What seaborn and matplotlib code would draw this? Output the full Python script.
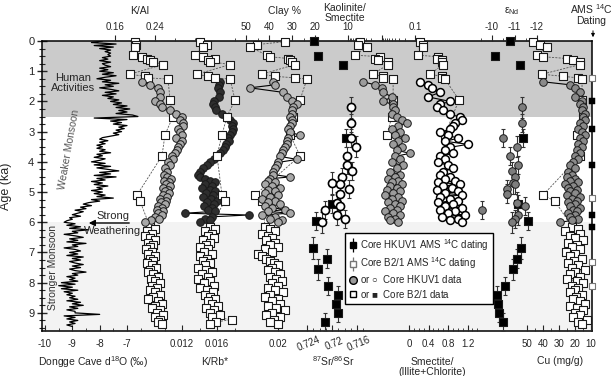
import numpy as np
import matplotlib.pyplot as plt
import seaborn as sns
from matplotlib.lines import Line2D
from matplotlib.legend_handler import HandlerTuple
from matplotlib.ticker import NullFormatter

sns.set_style('ticks')
plt.rcParams['font.family'] = ['Liberation Sans', 'DejaVu Sans']
plt.rcParams['mathtext.default'] = 'regular'

# ---------------- data ----------------
# Dongge cave d18O (permil), one value every 0.05 ka from 0 to 9.45 ka
d18o = [-7.9, -8.3, -7.4, -8.2, -7.5, -8.0, -7.6, -7.8, -7.6, -7.7,
        -7.6, -7.9, -7.7, -8.0, -7.6, -7.9, -7.8, -7.6, -8.0, -7.7,
        -8.0, -7.5, -7.9, -7.4, -7.8, -8.1, -7.6, -7.9, -7.3, -7.8,
        -7.5, -8.0, -7.6, -7.3, -7.8, -7.4, -7.9, -7.5, -7.7, -7.3,
        -7.6, -7.2, -7.5, -7.0, -7.4, -6.9, -7.3, -7.0, -7.4, -6.8,
        -6.6, -8.2, -7.0, -7.6, -7.2, -7.5, -7.0, -7.3, -7.1, -7.4,
        -7.2, -7.5, -7.3, -7.6, -7.9, -8.0, -7.7, -8.0, -7.8, -8.1,
        -7.9, -8.1, -7.8, -8.0, -7.6, -8.1, -7.9, -8.2, -7.8, -8.0,
        -8.3, -7.8, -8.2, -7.6, -8.1, -7.7, -7.3, -8.0, -7.6, -8.2,
        -7.4, -8.1, -7.8, -8.3, -7.9, -8.2, -7.7, -8.1, -7.9, -8.3,
        -7.9, -8.2, -7.8, -8.1, -7.5, -8.3, -8.0, -8.4, -8.6, -8.3,
        -8.7, -8.5, -8.9, -8.6, -8.8, -9.0, -8.7, -9.1, -9.0, -9.2,
        -9.3, -8.9, -9.2, -8.7, -9.1, -8.4, -9.0, -8.8, -9.3, -8.9,
        -8.6, -9.1, -8.8, -9.2, -8.5, -9.0, -8.8, -9.3, -8.9, -8.7,
        -9.1, -8.8, -9.2, -8.6, -9.0, -8.7, -9.1, -8.9, -8.6, -9.0,
        -8.7, -9.1, -8.9, -8.5, -9.0, -8.8, -9.2, -8.9, -9.1, -8.8,
        -9.4, -8.9, -9.5, -9.0, -9.4, -8.8, -9.3, -9.0, -9.2, -8.9,
        -9.1, -8.8, -9.2, -8.7, -9.0, -8.6, -9.1, -8.8, -9.2, -8.9,
        -8.9, -8.0, -9.3, -8.9, -9.2, -8.8, -9.1, -8.9, -9.2, -9.0]
d18o_age = np.round(np.arange(0, 9.5, 0.05), 2)

# Core HKUV1 sample ages (ka)
hk_age = [1.35, 1.45, 1.55, 1.70, 1.85, 2.00, 2.10, 2.20, 2.30, 2.42,
          2.52, 2.62, 2.72, 2.82, 2.92, 3.02, 3.12, 3.22, 3.32, 3.42,
          3.52, 3.62, 3.72, 3.82, 3.92, 4.02, 4.12, 4.22, 4.32, 4.42,
          4.50, 4.56, 4.62, 4.68, 4.74, 4.80, 4.86, 4.92, 4.98, 5.04,
          5.10, 5.16, 5.22, 5.28, 5.34, 5.40, 5.46, 5.52, 5.58, 5.64,
          5.70, 5.76, 5.82, 5.88, 5.94, 6.00]

# Core B2/1 sample ages (ka)
b2_age = [0.02, 0.12, 0.20, 0.47, 0.52, 0.58, 0.62, 0.68, 0.78, 1.10, 1.17, 1.22, 1.26,
          1.95, 2.50, 3.10, 3.80, 5.10, 5.30,
          6.15, 6.22, 6.30, 6.38, 6.45, 6.52, 6.60, 6.68, 6.75, 6.83,
          6.90, 6.98, 7.05, 7.12, 7.20, 7.28, 7.35, 7.42, 7.50, 7.58,
          7.65, 7.72, 7.80, 7.88, 7.95, 8.02, 8.10, 8.18, 8.25, 8.32,
          8.40, 8.48, 8.55, 8.62, 8.70, 8.78, 8.85, 8.92, 9.00, 9.08,
          9.15, 9.22, 9.30, 9.38]

hk_kal = [0.214, 0.230, 0.246, 0.250, 0.250, 0.240, 0.250, 0.254, 0.270, 0.282,
          0.294, 0.290, 0.296, 0.296, 0.286, 0.290, 0.294, 0.282, 0.294, 0.290,
          0.286, 0.284, 0.280, 0.274, 0.276, 0.266, 0.270, 0.260, 0.264, 0.258,
          0.264, 0.272, 0.258, 0.268, 0.262, 0.270, 0.256, 0.266, 0.260, 0.268,
          0.256, 0.264, 0.250, 0.262, 0.252, 0.260, 0.246, 0.254, 0.244, 0.256,
          0.246, 0.254, 0.240, 0.248, 0.232, 0.220]
b2_kal = [0.200, 0.202, 0.200, 0.196, 0.214, 0.224, 0.230, 0.236, 0.256, 0.190, 0.220, 0.226, 0.266,
          0.270, 0.276, 0.260, 0.254, 0.204, 0.210,
          0.230, 0.240, 0.224, 0.234, 0.220, 0.230, 0.240, 0.226, 0.236, 0.230,
          0.222, 0.234, 0.226, 0.240, 0.230, 0.236, 0.224, 0.234, 0.242, 0.230,
          0.226, 0.236, 0.246, 0.232, 0.240, 0.250, 0.234, 0.244, 0.230, 0.240,
          0.250, 0.236, 0.226, 0.246, 0.254, 0.240, 0.234, 0.250, 0.244, 0.256,
          0.240, 0.250, 0.246, 0.254]

hk_krb = [0.01634, 0.01623, 0.01611, 0.01634, 0.01623, 0.01566, 0.01554, 0.01577, 0.01589, 0.01657,
          0.01714, 0.01749, 0.01783, 0.01771, 0.01783, 0.01771, 0.01749, 0.01726, 0.01737, 0.01703,
          0.01691, 0.01669, 0.01634, 0.01600, 0.01566, 0.01520, 0.01486, 0.01440, 0.01406, 0.01383,
          0.01406, 0.01463, 0.01520, 0.01577, 0.01463, 0.01543, 0.01429, 0.01520, 0.01577, 0.01474,
          0.01554, 0.01440, 0.01531, 0.01600, 0.01486, 0.01566, 0.01451, 0.01543, 0.01497, 0.01577,
          0.01234, 0.01960, 0.01543, 0.01463, 0.01520, 0.01406]
b2_krb = [0.01406, 0.01486, 0.01440, 0.01349, 0.01440, 0.01577, 0.01497, 0.01520, 0.01749, 0.01371, 0.01497, 0.01577, 0.01749,
          0.01806, 0.01714, 0.01657, 0.01600, 0.01657, 0.01691,
          0.01520, 0.01577, 0.01463, 0.01543, 0.01497, 0.01566, 0.01440, 0.01520, 0.01474, 0.01406,
          0.01497, 0.01451, 0.01543, 0.01406, 0.01486, 0.01440, 0.01520, 0.01463, 0.01383, 0.01474,
          0.01543, 0.01429, 0.01497, 0.01383, 0.01520, 0.01451, 0.01566, 0.01406, 0.01486, 0.01554,
          0.01463, 0.01520, 0.01577, 0.01497, 0.01543, 0.01611, 0.01474, 0.01566, 0.01520, 0.01634,
          0.01543, 0.01771, 0.01589, 0.01520]

hk_clay = [38.3, 37.4, 48.3, 33.9, 32.2, 30.0, 27.8, 29.6, 30.0, 30.0,
           30.9, 30.0, 30.0, 30.9, 31.7, 30.9, 26.5, 31.7, 32.2, 32.2,
           33.0, 33.9, 34.3, 35.2, 27.8, 36.1, 36.5, 37.4, 38.3, 38.3,
           30.9, 39.6, 40.4, 37.4, 41.7, 38.7, 35.2, 40.4, 37.4, 41.7,
           36.1, 39.6, 43.0, 37.4, 40.4, 35.2, 41.7, 38.7, 33.0, 40.4,
           30.9, 43.0, 37.4, 39.6, 34.3, 36.1]
b2_clay = [33.0, 45.2, 48.3, 40.9, 39.6, 31.7, 30.9, 30.0, 28.7, 43.0, 37.4, 28.7, 23.5,
           26.5, 29.6, 30.9, 26.5, 46.1, 43.0,
           41.7, 39.6, 37.4, 43.0, 40.4, 38.7, 41.3, 37.4, 39.6, 36.1,
           41.7, 38.7, 44.8, 43.0, 41.3, 39.6, 37.8, 36.1, 38.7, 40.4,
           37.4, 35.2, 39.6, 37.0, 34.3, 38.7, 36.1, 40.4, 37.4, 33.9,
           39.6, 41.7, 36.1, 38.7, 35.2, 40.4, 37.0, 33.0, 38.7, 41.3,
           35.2, 37.8, 39.6, 36.1]

hk_kaol = [3.57, 1.56, 0.95, 0.90, 0.49, 0.90, 0.45, 0.45, 0.40, 0.49,
           0.34, 0.24, 0.17, 0.32, 0.49, 0.28, 0.40, 0.20, 0.32, 0.45,
           0.24, 0.34, 0.14, 0.40, 0.28, 0.49, 0.23, 0.34, 0.56, 0.28,
           0.40, 0.64, 0.32, 0.49, 0.24, 0.56, 0.34, 0.69, 0.28, 0.45,
           0.79, 0.32, 0.49, 0.24, 0.64, 0.40, 0.28, 0.56, 0.34, 0.79,
           0.45, 0.28, 0.64, 0.40, 0.56, 0.32]
b2_kaol = ([4.38, 5.02, 2.71, 6.18, 1.11, 1.56, 1.27, 0.64, 0.64, 1.80, 0.90, 0.90, 0.45,
            0.45, 0.49, 0.69, np.nan, np.nan, np.nan] + [np.nan] * 44)

hk_smi = [0.226, 0.390, 0.472, 0.636, 0.390, 0.841, 0.636, 0.574, 0.697, 0.841,
          1.046, 1.087, 0.944, 0.903, 0.841, 0.636, 0.800, 1.005, 0.738, 1.210,
          0.841, 0.738, 0.903, 0.636, 0.738, 0.595, 0.800, 0.903, 0.697, 0.636,
          0.841, 0.738, 0.944, 0.595, 1.046, 0.697, 0.882, 0.574, 1.005, 0.738,
          1.087, 0.636, 0.841, 1.005, 0.595, 0.903, 0.738, 1.087, 0.636, 0.944,
          0.800, 1.149, 0.677, 1.005, 0.841, 1.087]
b2_smi = ([0.226, 0.287, 0.287, 0.185, 0.595, 0.574, 0.677, 0.677, 0.697, 0.431, 0.677, 0.677, 0.738,
           1.026, np.nan, 0.738, np.nan, np.nan, np.nan] + [np.nan] * 44)

hk_cu = [40.0, 23.1, 20.0, 16.9, 20.0, 15.6, 16.9, 15.0, 15.6, 13.8,
         15.0, 13.8, 16.9, 15.0, 18.1, 15.6, 13.8, 16.9, 15.0, 18.1,
         15.6, 18.8, 16.9, 20.0, 18.1, 21.3, 23.1, 20.0, 24.4, 21.9,
         25.0, 20.0, 23.1, 18.1, 26.3, 21.3, 24.4, 18.8, 23.1, 20.0,
         25.0, 16.9, 21.9, 18.8, 24.4, 20.0, 23.1, 16.9, 21.3, 18.8,
         24.4, 20.0, 23.1, 18.1, 21.9, 29.4]
b2_cu = [46.3, 41.9, 37.5, 43.8, 40.0, 25.0, 21.3, 16.9, 16.9, 40.6, 27.5, 18.1, 15.6,
         15.6, 15.0, 18.8, 16.9, 40.0, 32.5,
         21.9, 18.1, 26.3, 16.9, 23.1, 20.0, 15.0, 24.4, 18.8, 21.9,
         16.9, 25.6, 20.0, 23.1, 15.6, 20.6, 24.4, 18.1, 21.9, 13.8,
         20.0, 23.1, 16.9, 25.0, 18.8, 15.0, 21.9, 18.1, 20.0, 23.1,
         15.6, 19.4, 21.3, 16.9, 13.8, 23.1, 18.8, 15.0, 20.0, 16.9,
         21.3, 12.5, 18.1, 15.6]

# isotope samples (Sr and Nd measured on the same samples)
hk_iso_age = [2.2, 2.7, 3.2, 3.5, 3.8, 4.1, 4.3, 4.5, 4.7, 4.75, 4.9, 5.05, 5.35, 5.45, 5.6, 5.75, 5.9, 6.0]
hk_iso_err = [0.35, 0.3, 0.3, 0.35, 0.3, 0.3, 0.3, 0.3, 0.35, 0.3, 0.3, 0.3, 0.35, 0.3, 0.3, 0.35, 0.3, 0.35]
hk_sr = [0.71692, 0.71692, 0.71692, 0.71615, 0.71754, 0.71754, 0.71677, 0.71846, 0.72000,
         0.71877, 0.71723, 0.71877, 0.71923, 0.71877, 0.72108, 0.71923, 0.71800, 0.72154]
hk_nd = [-11.33, -11.33, -10.49, -11.11, -10.80, -11.16, -10.89, -11.02, -10.93,
         -11.02, -10.67, -10.67, -11.11, -11.47, -9.56, -11.16, -11.02, -10.89]
b2_iso_age = [0.0, 0.5, 0.8, 3.2, 5.4, 5.95, 6.85, 7.2, 7.55, 8.1, 8.4, 8.7, 9.0, 9.3]
b2_iso_err = [0, 0, 0, 0.3, 0.3, 0.3, 0.35, 0.3, 0.35, 0.3, 0.3, 0.3, 0.3, 0.3]
b2_sr = [0.72292, 0.72231, 0.71831, 0.71769, 0.72000, 0.72262, 0.72308, 0.72077,
         0.72231, 0.72062, 0.71908, 0.71938, 0.71908, 0.72108]
b2_nd = [-10.80, -10.13, -11.24, -11.38, -11.16, -11.60, -11.29, -11.11, -10.93,
         -10.58, -10.22, -10.27, -10.31, -10.49]

# AMS 14C dating depths (ka)
ams_hk = [2.0, 2.9, 4.1, 5.75, 6.15]
ams_b2 = [1.23, 5.2, 7.3, 8.1]

# ---------------- layout ----------------
W, H = 612, 376
L, R = 42, 592
rect = [L / W, 45 / H, (R - L) / W, 290 / H]


def fpos(x, y):
    return x / W, 1 - y / H


def lim(v1, p1, v2, p2, log=False):
    if log:
        v1, v2 = np.log10(v1), np.log10(v2)
    s = (p2 - p1) / (v2 - v1)
    a, b = v1 + (L - p1) / s, v1 + (R - p1) / s
    return (10 ** a, 10 ** b) if log else (a, b)


fig = plt.figure(figsize=(W / 100, H / 100), dpi=100)
ax = fig.add_axes(rect)
ax.set_xlim(-1, 0)
ax.set_ylim(9.6, 0)
ax.axhspan(0, 2.5, color='#cbcbcb', lw=0, zorder=0)
ax.axhspan(6.0, 9.6, color='#f3f3f3', lw=0, zorder=0)
ax.set_xticks([])
ax.set_yticks(range(10))
ax.set_yticks(np.arange(0, 9.6, 0.25), minor=True)
ax.tick_params(axis='y', which='major', direction='inout', length=7, width=1, labelsize=8, pad=2)
ax.tick_params(axis='y', which='minor', direction='inout', length=4, width=0.8)
ax.set_ylabel('Age (ka)', fontsize=9)
ax.yaxis.set_label_coords(-30 / (R - L), 0.5)
for s in ax.spines.values():
    s.set_linewidth(1.1)
    s.set_color('k')


def overlay(xl, side, major, labels, minor=(), log=False):
    a = fig.add_axes(rect, sharey=ax)
    a.patch.set_visible(False)
    for s in a.spines.values():
        s.set_visible(False)
    if log:
        a.set_xscale('log')
    a.set_xlim(*xl)
    a.set_xticks(major, labels)
    a.set_xticks(list(minor), minor=True)
    a.xaxis.set_minor_formatter(NullFormatter())
    a.tick_params(axis='y', which='both', left=False, right=False, labelleft=False, labelright=False)
    if side == 'top':
        a.tick_params(axis='x', which='both', direction='out', top=True, bottom=False,
                      labeltop=True, labelbottom=False, pad=2.5)
    else:
        a.tick_params(axis='x', which='both', direction='in', top=False, bottom=True,
                      labeltop=False, labelbottom=True, pad=6)
    a.tick_params(axis='x', which='major', length=4, width=0.8, labelsize=7)
    a.tick_params(axis='x', which='minor', length=2.5, width=0.6)
    return a


def hk_points(a, x, y, face, line=True, s=30):
    if line:
        sns.lineplot(x=x, y=y, ax=a, sort=False, estimator=None, color='k', lw=0.8, zorder=3)
    sns.scatterplot(x=x, y=y, ax=a, marker='o', s=s, color=face, edgecolor='#1a1a1a',
                    linewidth=0.7, zorder=4, clip_on=False)


def b2_points(a, x, y, face='white', line=True):
    if line:
        sns.lineplot(x=x, y=y, ax=a, sort=False, estimator=None, color='#555555',
                     lw=0.6, ls=(0, (2.5, 1.5)), zorder=3)
    sns.scatterplot(x=x, y=y, ax=a, marker='s', s=26, color=face, edgecolor='#1a1a1a',
                    linewidth=0.8, zorder=4, clip_on=False)


def clean(a):
    a.set_xlabel('')
    a.set_ylabel('')


# Dongge cave d18O
a_o = overlay(lim(-10, 45, -7, 127), 'bottom', [-10, -9, -8, -7], ['-10', '-9', '-8', '-7'],
              [-9.5, -8.5, -7.5, -6.5])
sns.lineplot(x=d18o, y=d18o_age, ax=a_o, sort=False, estimator=None, color='k', lw=0.9)
clean(a_o)

# K/Al
a_kal = overlay(lim(0.16, 115, 0.24, 155), 'top', [0.16, 0.24], ['0.16', '0.24'], [0.20, 0.28, 0.32])
b2_points(a_kal, b2_kal, b2_age)
hk_points(a_kal, hk_kal, hk_age, '#a8a8a8')
clean(a_kal)

# K/Rb*
a_krb = overlay(lim(0.012, 182, 0.016, 217), 'bottom', [0.012, 0.016], ['0.012', '0.016'],
                [0.010, 0.014, 0.018])
hk_points(a_krb, hk_krb, hk_age, '#2e2e2e')
b2_points(a_krb, b2_krb, b2_age)
clean(a_krb)

# lone 0.02 bottom tick
a_x = overlay(lim(0.02, 278, 0.024, 313), 'bottom', [0.02], ['0.02'])
clean(a_x)

# Clay %
a_clay = overlay(lim(50, 246, 20, 315), 'top', [50, 40, 30, 20], ['50', '40', '30', '20'],
                 [55, 45, 35, 25])
b2_points(a_clay, b2_clay, b2_age)
hk_points(a_clay, hk_clay, hk_age, '#a8a8a8')
clean(a_clay)

# 87Sr/86Sr
a_sr = overlay(lim(0.72, 332, 0.716, 357), 'bottom', [0.724, 0.72, 0.716], ['0.724', '0.72', '0.716'],
               [0.723, 0.722, 0.721, 0.719, 0.718, 0.717, 0.715])
for t in a_sr.get_xticklabels():
    t.set_rotation(22)
    t.set_rotation_mode('anchor')
    t.set_va('top')
a_sr.errorbar(b2_sr, b2_iso_age, yerr=b2_iso_err, fmt='none', ecolor='#333333', elinewidth=0.8,
              capsize=1.6, capthick=0.8, zorder=3)
a_sr.errorbar(hk_sr, hk_iso_age, yerr=hk_iso_err, fmt='none', ecolor='#333333', elinewidth=0.8,
              capsize=1.6, capthick=0.8, zorder=3)
b2_points(a_sr, b2_sr, b2_iso_age, face='black', line=False)
sns.scatterplot(x=hk_sr, y=hk_iso_age, ax=a_sr, marker='o', s=34, color='white',
                edgecolor='k', linewidth=1.2, zorder=4)
clean(a_sr)

# Kaolinite/Smectite (log)
a_kao = overlay(lim(10, 348, 0.1, 415, log=True), 'top', [10, 1, 0.1], ['10', '', '0.1'],
                [9, 8, 7, 6, 5, 4, 3, 2, 0.9, 0.8, 0.7, 0.6, 0.5, 0.4, 0.3, 0.2], log=True)
b2_points(a_kao, b2_kaol, b2_age)
hk_points(a_kao, hk_kaol, hk_age, '#9c9c9c')
clean(a_kao)

# Smectite/(Illite+Chlorite)
a_smi = overlay(lim(0, 409, 1.2, 467.5), 'bottom', [0, 0.4, 0.8, 1.2], ['0', '0.4', '0.8', '1.2'],
                [0.1, 0.2, 0.3, 0.5, 0.6, 0.7, 0.9, 1.0, 1.1, 1.3, 1.4])
b2_points(a_smi, b2_smi, b2_age)
sns.lineplot(x=hk_smi, y=hk_age, ax=a_smi, sort=False, estimator=None, color='k', lw=0.8, zorder=3)
sns.scatterplot(x=hk_smi, y=hk_age, ax=a_smi, marker='o', s=32, color='white',
                edgecolor='k', linewidth=1.1, zorder=4)
clean(a_smi)

# eps Nd
a_nd = overlay(lim(-10, 492, -12, 537), 'top', [-10, -11, -12], ['-10', '-11', '-12'],
               [-9.5, -10.5, -11.5])
a_nd.errorbar(b2_nd, b2_iso_age, yerr=b2_iso_err, fmt='none', ecolor='#333333', elinewidth=0.8,
              capsize=1.6, capthick=0.8, zorder=3)
a_nd.errorbar(hk_nd, hk_iso_age, yerr=hk_iso_err, fmt='none', ecolor='#333333', elinewidth=0.8,
              capsize=1.6, capthick=0.8, zorder=3)
b2_points(a_nd, b2_nd, b2_iso_age, face='black', line=False)
hk_points(a_nd, hk_nd, hk_iso_age, '#7d7d7d', line=False)
clean(a_nd)

# Cu
a_cu = overlay(lim(50, 527, 10, 591), 'bottom', [50, 40, 30, 20, 10], ['50', '40', '30', '20', '10'],
               [45, 35, 25, 15])
b2_points(a_cu, b2_cu, b2_age)
hk_points(a_cu, hk_cu, hk_age, '#8a8a8a')
clean(a_cu)

# AMS 14C dating on the right spine (single column at x = 0)
sns.scatterplot(x=[0] * len(ams_hk), y=ams_hk, ax=ax, marker='s', s=16, color='k',
                edgecolor='k', zorder=6, clip_on=False)
sns.scatterplot(x=[0] * len(ams_b2), y=ams_b2, ax=ax, marker='s', s=14, color='white',
                edgecolor='#777777', linewidth=0.8, zorder=6, clip_on=False)
ax.set_xlabel('')

# ---------------- texts ----------------
def T(x, y, s, **kw):
    kw.setdefault('fontsize', 7.5)
    fig.text(*fpos(x, y), s, ha='center', va='center', **kw)


T(140, 11, 'K/Al')
T(285, 11, 'Clay %')
T(345, 13, 'Kaolinite/\nSmectite', linespacing=1.0)
T(512, 11, r'$\epsilon_{Nd}$')
T(591, 14, 'AMS $^{14}$C\nDating', linespacing=1.05)
T(93, 362, 'Dongge Cave d$^{18}$O (‰)')
T(215, 362, 'K/Rb*')
T(333, 361, '$^{87}$Sr/$^{86}$Sr')
T(432, 367, 'Smectite/\n(Illite+Chlorite)', linespacing=1.05)
T(560, 361, 'Cu (mg/g)')

T(73, 83, 'Human\nActivities', fontsize=8, linespacing=1.1)
T(69, 150, 'Weaker Monsoon', fontsize=7.5, rotation=80, color='#555555')
T(53, 268, 'Stronger Monsoon', fontsize=7.5, rotation=90, color='#333333')
T(113, 216, 'Strong', fontsize=8)
T(113, 231, 'Weathering', fontsize=8)
fig.add_artist(plt.Annotation('', xy=fpos(86, 223), xytext=fpos(132, 223), xycoords='figure fraction',
                              textcoords='figure fraction',
                              arrowprops=dict(arrowstyle='-|>', color='k', lw=1.0, mutation_scale=9)))
fig.add_artist(plt.Annotation('', xy=fpos(593, 40), xytext=fpos(593, 28), xycoords='figure fraction',
                              textcoords='figure fraction',
                              arrowprops=dict(arrowstyle='-|>', color='k', lw=0.7, mutation_scale=5)))

# ---------------- legend ----------------
h1 = (Line2D([], [], color='k', marker='|', ms=10, mew=0.9, ls=''),
      Line2D([], [], marker='s', ms=4, mfc='k', mec='k', ls=''))
h2 = (Line2D([], [], color='#777777', marker='|', ms=10, mew=0.9, ls=''),
      Line2D([], [], marker='s', ms=4, mfc='white', mec='#777777', ls=''))
h3 = Line2D([], [], marker='o', ms=5.5, mfc='#9a9a9a', mec='k', ls='')
h4 = Line2D([], [], marker='s', ms=5, mfc='white', mec='k', ls='')
leg = fig.legend([h1, h2, h3, h4],
                 ['Core HKUV1 AMS $^{14}$C dating', 'Core B2/1 AMS $^{14}$C dating',
                  r'or $\bigcirc$  Core HKUV1 data', r'or $\blacksquare$  Core B2/1 data'],
                 loc='upper left', bbox_to_anchor=fpos(345, 233), frameon=True, fancybox=False,
                 edgecolor='k', framealpha=1, fontsize=7, handlelength=0.8, handletextpad=0.35,
                 borderpad=0.4, labelspacing=0.25, borderaxespad=0,
                 handler_map={tuple: HandlerTuple(ndivide=1)})
leg.get_frame().set_linewidth(1.0)

fig.savefig('out.png', dpi=100)
